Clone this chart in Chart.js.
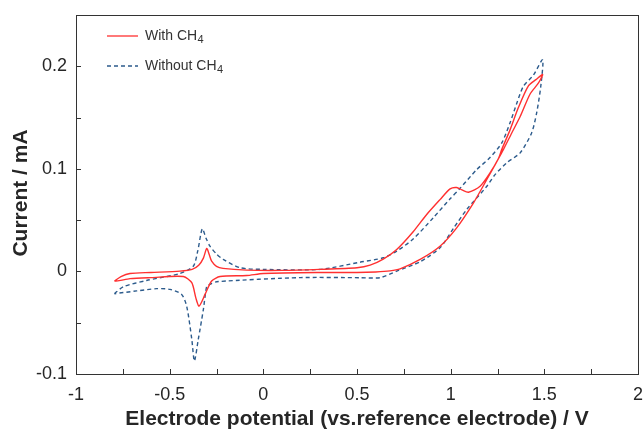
<!DOCTYPE html>
<html>
<head>
<meta charset="utf-8">
<script src="https://cdn.jsdelivr.net/npm/chart.js@4/dist/chart.umd.min.js"></script>
<style>
  html, body { margin: 0; padding: 0; background: #fff; }
  #wrap { width: 644px; height: 429px; }
</style>
</head>
<body>
<div id="wrap"><canvas id="cv"></canvas></div>
<script>
// With CH4 (closed loop: forward scan left->right, then return)
const withCH4X = [-0.795, -0.76, -0.712, -0.6, -0.445, -0.38, -0.345, -0.32, -0.302, -0.288, -0.276, -0.25, -0.215, -0.089, 0.1, 0.3, 0.5, 0.57, 0.64, 0.712, 0.801, 0.872, 0.943, 0.997, 1.032, 1.06, 1.095, 1.157, 1.21, 1.255, 1.273, 1.317, 1.362, 1.415, 1.455, 1.491,
  1.468, 1.424, 1.371, 1.326, 1.282, 1.246, 1.193, 1.122, 1.032, 0.943, 0.837, 0.73, 0.676, 0.6, 0.5, 0.3, 0.0, -0.089, -0.231, -0.276, -0.311, -0.343, -0.36, -0.382, -0.427, -0.6, -0.712, -0.77, -0.795];
const withCH4Y = [-0.0094, -0.005, -0.002, -0.001, 0.0003, 0.002, 0.006, 0.013, 0.0224, 0.016, 0.010, 0.005, 0.003, 0.0013, 0.001, 0.002, 0.0036, 0.0061, 0.012, 0.0214, 0.039, 0.0555, 0.070, 0.0805, 0.0818, 0.0795, 0.0772, 0.083, 0.096, 0.110, 0.119, 0.138, 0.160, 0.181, 0.187, 0.192,
  0.1835, 0.173, 0.151, 0.135, 0.119, 0.107, 0.0896, 0.0669, 0.0425, 0.0246, 0.0117, 0.0025, 0.0005, -0.0005, -0.001, -0.001, -0.002, -0.004, -0.005, -0.0094, -0.0224, -0.0338, -0.026, -0.011, -0.005, -0.006, -0.007, -0.009, -0.0094];

// Without CH4
const withoutCH4X = [-0.795, -0.747, -0.623, -0.445, -0.374, -0.35, -0.326, -0.305, -0.285, -0.25, -0.214, -0.124, 0.0, 0.303, 0.516, 0.641, 0.712, 0.801, 0.908, 0.997, 1.05, 1.139, 1.21, 1.273, 1.317, 1.353, 1.388, 1.442, 1.491,
  1.481, 1.459, 1.432, 1.371, 1.3, 1.237, 1.193, 1.086, 1.015, 0.943, 0.837, 0.712, 0.623, 0.516, 0.2, -0.249, -0.285, -0.302, -0.32, -0.347, -0.368, -0.382, -0.409, -0.436, -0.498, -0.569, -0.676, -0.795];
const withoutCH4Y = [-0.0217, -0.0149, -0.0088, -0.002, 0.005, 0.02, 0.0415, 0.032, 0.0246, 0.017, 0.0117, 0.0036, 0.002, 0.002, 0.009, 0.0133, 0.0198, 0.0318, 0.0525, 0.0708, 0.081, 0.0993, 0.111, 0.1253, 0.145, 0.164, 0.1805, 0.1915, 0.2064,
  0.1805, 0.1545, 0.135, 0.1156, 0.106, 0.0944, 0.083, 0.0604, 0.042, 0.023, 0.0095, 0.0003, -0.0061, -0.0061, -0.006, -0.010, -0.0127, -0.0143, -0.037, -0.066, -0.0873, -0.066, -0.034, -0.0224, -0.0175, -0.0168, -0.019, -0.0217];

const xTicks = [-1, -0.5, 0, 0.5, 1, 1.5, 2];
const yTicks = [-0.1, 0, 0.1, 0.2];

const redColor = '#ff3030';
const blueColor = '#2c5b8c';
const inkColor = '#262626';

function toPoints(xs, ys) {
    return xs.map((x, i) => ({x: x, y: ys[i]}));
}

// frame, inward ticks, axis titles and legend
const decorPlugin = {
    id: 'decor',
    afterDraw(chart) {
        const ctx = chart.ctx;
        const a = chart.chartArea;
        const sx = chart.scales.x;
        const sy = chart.scales.y;
        ctx.save();
        ctx.strokeStyle = '#333';
        ctx.lineWidth = 1;
        ctx.strokeRect(a.left + 0.5, a.top + 0.5, a.right - a.left, a.bottom - a.top);

        ctx.beginPath();
        for (let v = -1; v <= 2.001; v += 0.25) {
            const px = Math.round(sx.getPixelForValue(v)) + 0.5;
            ctx.moveTo(px, a.bottom);
            ctx.lineTo(px, a.bottom - 5);
        }
        for (let v = -0.1; v <= 0.2501; v += 0.05) {
            const py = Math.round(sy.getPixelForValue(v)) + 0.5;
            ctx.moveTo(a.left, py);
            ctx.lineTo(a.left + 5, py);
        }
        ctx.stroke();

        // axis titles
        ctx.fillStyle = inkColor;
        ctx.font = 'bold 21px "Liberation Sans", Arial, sans-serif';
        ctx.textAlign = 'center';
        ctx.textBaseline = 'middle';
        ctx.fillText('Electrode potential (vs.reference electrode) / V', 357, 419);
        ctx.save();
        ctx.translate(21, 193);
        ctx.rotate(-Math.PI / 2);
        ctx.fillText('Current / mA', 0, 0);
        ctx.restore();

        // legend
        const items = [
            {label: 'With CH', color: redColor, dash: [], y: 36},
            {label: 'Without CH', color: blueColor, dash: [4, 3], y: 66}
        ];
        items.forEach(it => {
            ctx.strokeStyle = it.color;
            ctx.lineWidth = 1.3;
            ctx.setLineDash(it.dash);
            ctx.beginPath();
            ctx.moveTo(107, it.y);
            ctx.lineTo(138, it.y);
            ctx.stroke();
            ctx.setLineDash([]);
            ctx.fillStyle = '#333';
            ctx.textAlign = 'left';
            ctx.textBaseline = 'middle';
            ctx.font = '14px "Liberation Sans", Arial, sans-serif';
            ctx.fillText(it.label, 145, it.y);
            const w = ctx.measureText(it.label).width;
            ctx.font = '11px "Liberation Sans", Arial, sans-serif';
            ctx.fillText('4', 145 + w + 0.5, it.y + 4);
        });
        ctx.restore();
    }
};

new Chart(document.getElementById('cv'), {
    type: 'scatter',
    data: {
        datasets: [{
            label: 'With CH4',
            data: toPoints(withCH4X, withCH4Y),
            showLine: true,
            borderColor: redColor,
            borderWidth: 1.4,
            pointRadius: 0,
            tension: 0.25
        }, {
            label: 'Without CH4',
            data: toPoints(withoutCH4X, withoutCH4Y),
            showLine: true,
            borderColor: blueColor,
            borderWidth: 1.4,
            borderDash: [4, 3],
            pointRadius: 0,
            tension: 0.25
        }]
    },
    options: {
        responsive: true,
        maintainAspectRatio: false,
        animation: false,
        layout: {padding: {top: 15, right: 6, left: 0, bottom: 0}},
        plugins: {
            legend: {display: false},
            tooltip: {enabled: false}
        },
        scales: {
            x: {
                type: 'linear',
                min: -1,
                max: 2,
                afterBuildTicks: (s) => { s.ticks = xTicks.map(v => ({value: v})); },
                afterFit: (s) => { s.height = 55; s.paddingLeft = 0; s.paddingRight = 0; },
                grid: {display: false, drawTicks: false},
                border: {display: false},
                ticks: {
                    color: inkColor,
                    padding: 10,
                    maxRotation: 0,
                    font: {family: '"Liberation Sans", Arial, sans-serif', size: 18},
                    callback: (v) => String(v)
                }
            },
            y: {
                type: 'linear',
                min: -0.1,
                max: 0.25,
                afterBuildTicks: (s) => { s.ticks = yTicks.map(v => ({value: v})); },
                afterFit: (s) => { s.width = 76; s.paddingTop = 0; s.paddingBottom = 0; },
                grid: {display: false, drawTicks: false},
                border: {display: false},
                ticks: {
                    color: inkColor,
                    padding: 9,
                    font: {family: '"Liberation Sans", Arial, sans-serif', size: 18},
                    callback: (v) => String(Math.round(v * 10) / 10)
                }
            }
        }
    },
    plugins: [decorPlugin]
});
</script>
</body>
</html>
